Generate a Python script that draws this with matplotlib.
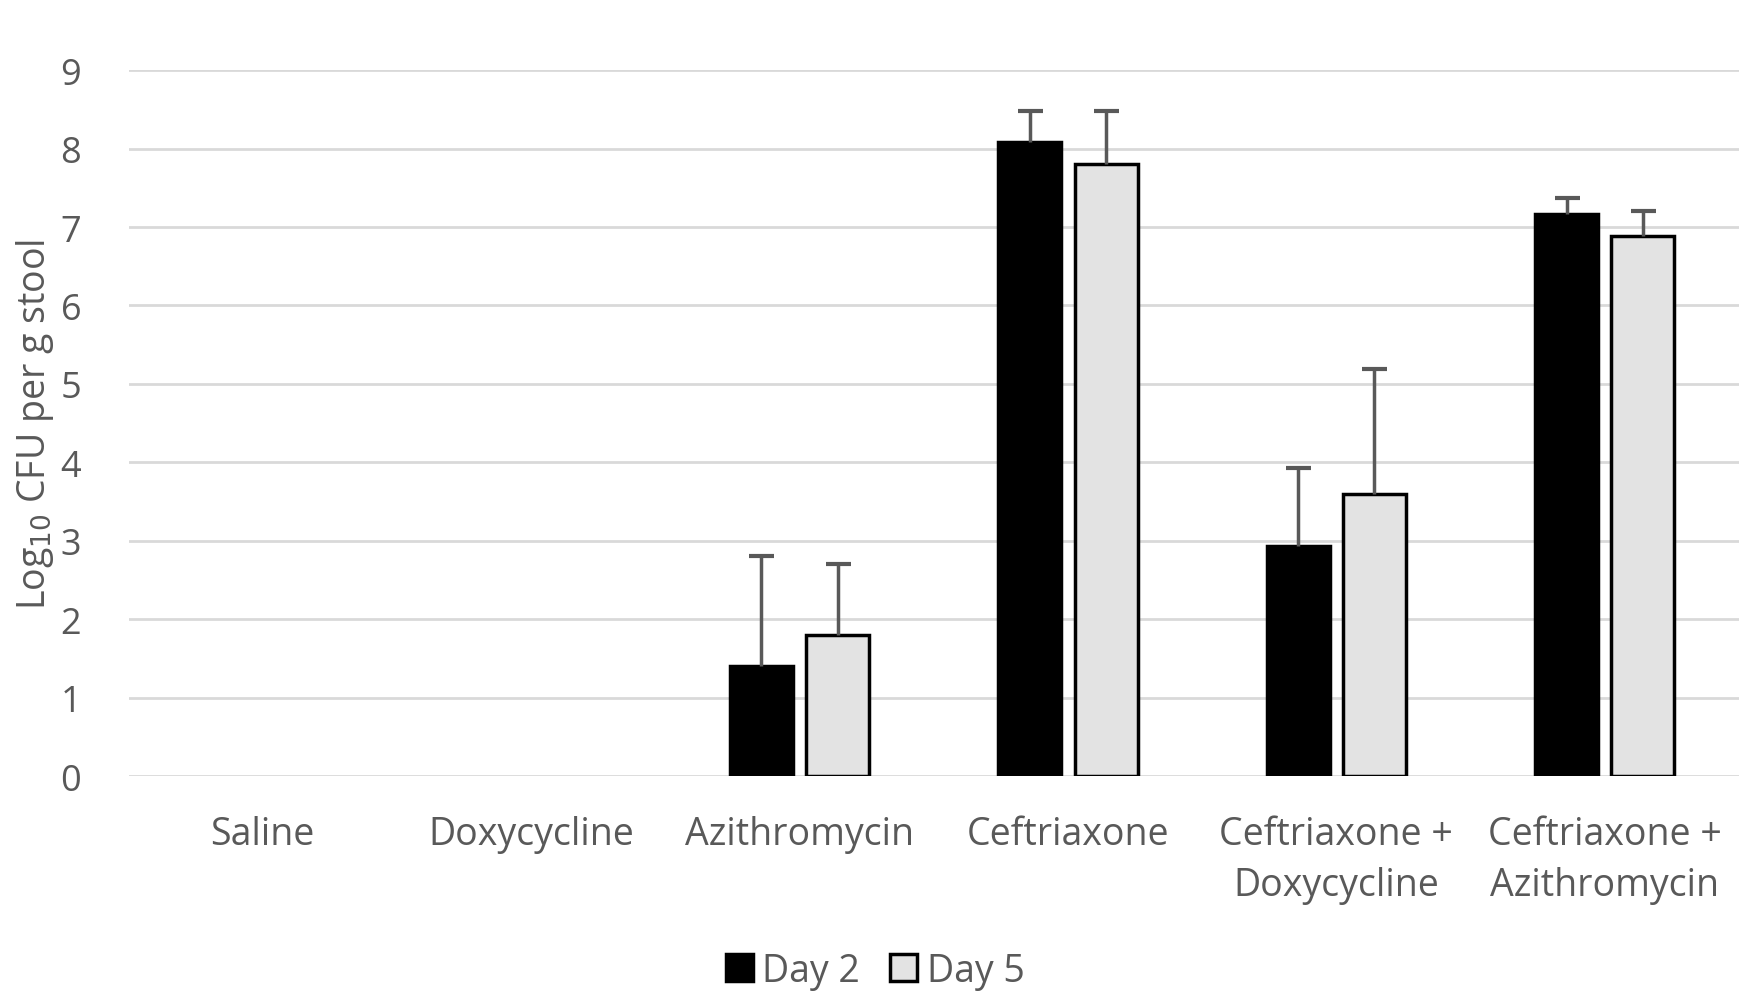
import numpy as np
import matplotlib.pyplot as plt
from matplotlib.patches import Patch

# data
groups = ['Saline', 'Doxycycline', 'Azithromycin', 'Ceftriaxone',
          'Ceftriaxone +\nDoxycycline', 'Ceftriaxone +\nAzithromycin']
day2 = [0, 0, 1.4, 8.08, 2.93, 7.17]
day2_err = [0, 0, 1.4, 0.4, 1.0, 0.2]
day5 = [0, 0, 1.8, 7.8, 3.59, 6.88]
day5_err = [0, 0, 0.9, 0.68, 1.6, 0.32]

plt.rcParams['font.family'] = ['Open Sans', 'DejaVu Sans']
txt = '#595959'

fig = plt.figure(figsize=(17.61, 10.03), dpi=100)
ax = fig.add_axes([0.073, 0.2253, 0.9145, 0.7037])

x = np.arange(len(groups))
w = 0.235
off = 0.142
series = [(x - off, day2, day2_err, 'black'), (x + off, day5, day5_err, '#e3e3e3')]
for xs, v, e, col in series:
    v = np.array(v); e = np.array(e)
    m = v > 0  # saline / doxy have nothing plotted
    ax.bar(xs[m], v[m], w, color=col, edgecolor='black', linewidth=2.5, zorder=3)
    _, caps, _ = ax.errorbar(xs[m], v[m], yerr=[np.zeros(m.sum()), e[m]], fmt='none',
                             ecolor='#595959', elinewidth=2.5, capsize=9, capthick=3,
                             zorder=4)
    caps[0].set_visible(False)  # no cap at the bottom

ax.set_ylim(0, 9)
ax.set_xlim(-0.5, len(groups) - 0.5)
ax.set_yticks(range(10))
ax.yaxis.grid(True, color='#d9d9d9', linewidth=2)
ax.set_axisbelow(True)
for s in ax.spines.values():
    s.set_visible(False)
ax.tick_params(axis='both', length=0, labelcolor=txt)
ax.tick_params(axis='y', labelsize=26, pad=34)
ax.tick_params(axis='x', labelsize=27, pad=28)
ax.set_xticks(x)
ax.set_xticklabels(groups, linespacing=1.45)
ax.set_ylabel('Log$_{10}$ CFU per g stool', fontsize=27, color=txt, labelpad=3)

handles = [Patch(facecolor='black', edgecolor='black', linewidth=2.5, label='Day 2'),
           Patch(facecolor='#e3e3e3', edgecolor='black', linewidth=2.5, label='Day 5')]
fig.legend(handles=handles, loc='center', bbox_to_anchor=(0.497, 0.031), ncol=2,
           frameon=False, fontsize=27, labelcolor=txt, handlelength=0.72,
           handleheight=0.72, handletextpad=0.25, columnspacing=0.8)

fig.savefig('out.png', dpi=100)
